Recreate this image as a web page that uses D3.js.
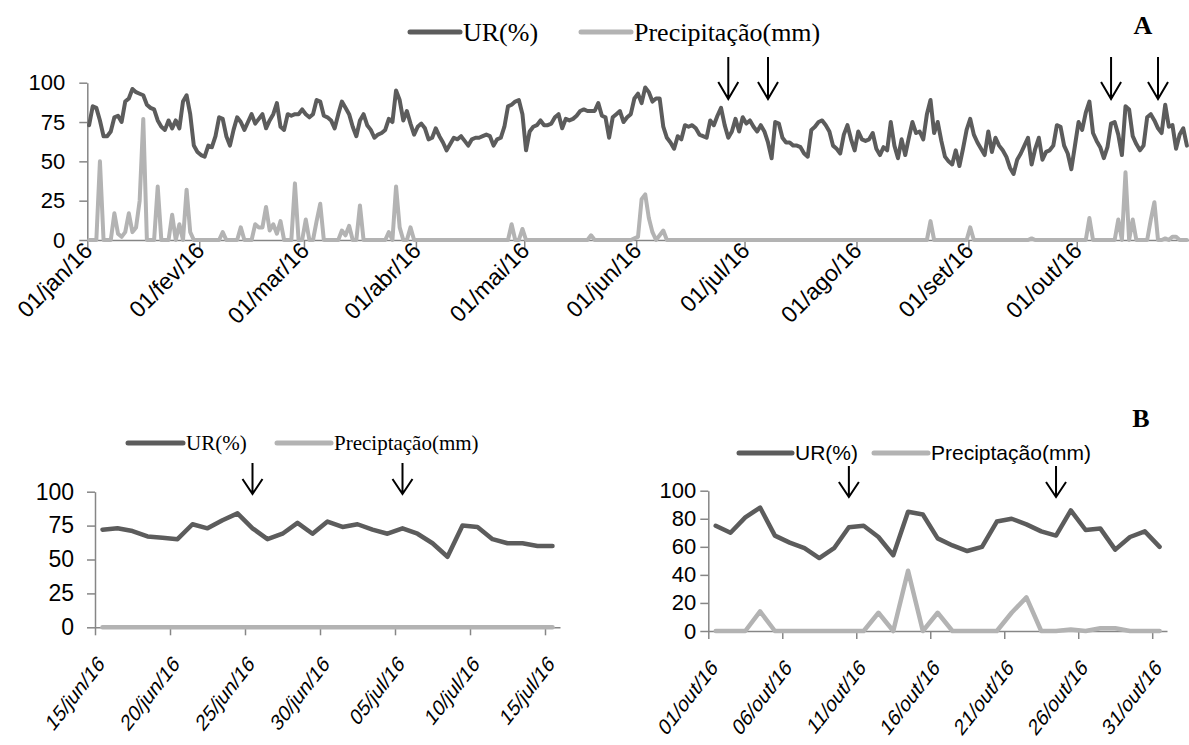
<!DOCTYPE html>
<html><head><meta charset="utf-8">
<script src="https://cdn.jsdelivr.net/npm/d3@7"></script>
<style>body{margin:0;background:#fff}</style>
</head><body>
<svg id="c" width="1189" height="745" xmlns="http://www.w3.org/2000/svg"></svg>
<script>
// ---------------- DATA ----------------
const monthAbbr = ["jan","fev","mar","abr","mai","jun","jul","ago","set","out","nov","dez"];
const seriesNamesA = ["UR(%)", "Precipitação(mm)"];
const seriesNamesB = ["UR(%)", "Preciptação(mm)"];

// Panel A: daily values 01/jan/16 .. 31/out/16
const urA = [
73,85,84,76,66,66,69,78,79,75,
88,90,96,94,93,92,86,84,83,76,
72,70,76,71,76,71,88,92,80,60,
56,54,53,60,59,66,78,77,66,60,
70,78,75,70,75,80,74,77,80,71,
76,80,87,72,70,80,79,80,80,83,
80,78,80,89,88,79,78,76,71,80,
88,84,80,72,66,76,80,73,70,65,
67,68,70,77,75,95,89,76,82,74,
67,72,74,71,64,65,71,66,62,57,
61,65,64,66,63,60,64,65,65,66,
67,66,60,64,65,72,85,86,88,89,
80,57,69,72,73,76,73,73,74,78,
80,71,77,76,77,79,82,83,82,82,
82,87,79,78,65,78,80,82,75,78,
80,90,93,87,97,94,88,90,90,72,
65,62,58,66,64,73,72,73,71,67,
66,65,76,73,79,84,73,65,69,77,
69,78,74,76,72,69,73,69,62,52,
75,74,65,62,62,60,60,59,55,53,
70,72,75,76,73,69,60,58,55,67,
73,64,57,69,64,63,64,68,58,54,
59,57,75,60,52,64,54,65,75,68,
69,64,80,89,68,75,63,53,50,48,
57,47,58,70,77,67,62,58,54,69,
56,65,60,57,53,46,42,51,55,60,
65,48,58,65,51,56,57,60,73,72,
60,55,45,60,75,70,81,88,68,63,
59,52,59,74,75,67,54,85,83,66,
61,57,60,78,80,76,71,68,86,72,
73,58,67,71,60
];
const precA = [
0,0,0,50,0,0,0,17,4,2,
5,17,5,8,25,77,0,0,0,34,
0,0,0,16,0,10,0,32,5,0,
0,0,0,0,0,0,0,5,0,0,
0,0,8,0,0,0,10,8,8,21,
6,10,4,12,0,0,0,36,0,0,
13,0,0,12,23,0,0,0,0,0,
6,3,9,0,0,22,0,0,0,0,
0,0,0,5,0,34,8,0,0,8,
0,0,0,0,0,0,0,0,0,0,
0,0,0,0,0,0,0,0,0,0,
0,0,0,0,0,0,0,10,0,0,
7,0,0,0,0,0,0,0,0,0,
0,0,0,0,0,0,0,0,0,3,
0,0,0,0,0,0,0,0,0,0,
0,1,2,26,29,14,5,0,3,6,
0,0,0,0,0,0,0,0,0,0,
0,0,0,0,0,0,0,0,0,0,
0,0,0,0,0,0,0,0,0,0,
0,0,0,0,0,0,0,0,0,0,
0,0,0,0,0,0,0,0,0,0,
0,0,0,0,0,0,0,0,0,0,
0,0,0,0,0,0,0,0,0,0,
0,0,0,12,0,0,0,0,0,0,
0,0,0,0,8,0,0,0,0,0,
0,0,0,0,0,0,0,0,0,0,
0,1,0,0,0,0,0,0,0,0,
0,0,0,0,0,0,0,14,0,0,
0,0,0,0,0,13,0,43,0,13,
0,0,0,0,13,24,0,0,1,0,
2,2,0,0,0
];
// Panel B left: 15/jun/16 .. 15/jul/16
const urB1 = [72,73,71,67,66,65,76,73,79,84,73,65,69,77,69,78,74,76,72,69,73,69,62,52,75,74,65,62,62,60,60];
const precB1 = [0,0,0,0,0,0,0,0,0,0,0,0,0,0,0,0,0,0,0,0,0,0,0,0,0,0,0,0,0,0,0];
// Panel B right: 01/out/16 .. 31/out/16
const urB2 = [75,70,81,88,68,63,59,52,59,74,75,67,54,85,83,66,61,57,60,78,80,76,71,68,86,72,73,58,67,71,60];
const precB2 = [0,0,0,14,0,0,0,0,0,0,0,13,0,43,0,13,0,0,0,0,13,24,0,0,1,0,2,2,0,0,0];

const yTicksA = [0,25,50,75,100];
const yTicksB1 = [0,25,50,75,100];
const yTicksB2 = [0,20,40,60,80,100];
const xTickDaysB = [0,5,10,15,20,25,30];
const arrowsA = ["2016-06-26","2016-07-07","2016-10-10","2016-10-23"];
const arrowsB1 = ["2016-06-25","2016-07-05"];
const arrowsB2 = ["2016-10-10","2016-10-24"];

// ---------------- DRAW ----------------
const svg = d3.select("#c");
const colUR = "#5c5c5c", colP = "#b3b3b3", colAxis = "#868686";
const sansFont = "'Liberation Sans', Arial, sans-serif";
const serifFont = "'Liberation Serif', 'Times New Roman', serif";
const parse = d3.timeParse("%Y-%m-%d");
const fmtLabel = d => d3.timeFormat("%d")(d) + "/" + monthAbbr[d.getMonth()] + "/" + d3.timeFormat("%y")(d);

function panel(cfg){
  const start = parse(cfg.start);
  const n = cfg.ur.length;
  const end = d3.timeDay.offset(start, n);
  const x = d3.scaleTime().domain([start, end]).range(cfg.xr);
  const y = d3.scaleLinear().domain([0,100]).range(cfg.yr);
  const g = svg.append("g");
  const mid = i => x(d3.timeHour.offset(d3.timeDay.offset(start, i), 12));

  // y axis
  const ya = g.append("g").attr("transform", `translate(${cfg.xr[0]},0)`)
    .call(d3.axisLeft(y).tickValues(cfg.yTicks).tickSize(8).tickSizeOuter(0).tickPadding(cfg.yPad));
  ya.select(".domain").attr("stroke", colAxis).attr("stroke-width", 1.5);
  ya.selectAll(".tick line").attr("stroke", colAxis).attr("stroke-width", 1.5);
  ya.selectAll(".tick text").attr("font-family", sansFont).attr("font-size", cfg.yFont).attr("fill", "#000");

  // x axis
  const xa = g.append("g").attr("transform", `translate(0,${cfg.yr[0]})`)
    .call(d3.axisBottom(x).tickValues(cfg.xTicks).tickSize(8).tickSizeOuter(0).tickFormat(fmtLabel));
  xa.select(".domain").attr("stroke", colAxis).attr("stroke-width", 1.5);
  xa.selectAll(".tick line").attr("stroke", colAxis).attr("stroke-width", 1.5);
  xa.selectAll(".tick text").attr("font-family", sansFont).attr("font-size", cfg.xFont).attr("fill", "#000")
    .attr("x", 0).attr("y", 0).attr("dy", 0).attr("text-anchor", "end")
    .attr("transform", `translate(${cfg.xOff[0]},${cfg.xOff[1]}) scale(${cfg.xSx},1) rotate(-45)`);

  const line = d3.line().x((d,i) => mid(i)).y(d => y(d)).curve(d3.curveLinear);
  g.append("path").datum(cfg.prec).attr("d", line).attr("fill","none").attr("stroke", colP)
    .attr("stroke-width", cfg.lw).attr("stroke-linejoin","round").attr("stroke-linecap","round");
  g.append("path").datum(cfg.ur).attr("d", line).attr("fill","none").attr("stroke", colUR)
    .attr("stroke-width", cfg.lw).attr("stroke-linejoin","round").attr("stroke-linecap","round");

  // arrows
  cfg.arrows.forEach(a => {
    const d = parse(a);
    const ax = x(d3.timeHour.offset(d, 12));
    const [y0, y1] = cfg.arrowY;
    const hw = cfg.arrowHead[0], hh = cfg.arrowHead[1];
    g.append("path").attr("d", `M${ax},${y0}L${ax},${y1}M${ax-hw},${y1-hh}L${ax},${y1}L${ax+hw},${y1-hh}`)
      .attr("fill","none").attr("stroke","#000").attr("stroke-width",2);
  });

  // legend
  const L = cfg.legend;
  cfg.names.forEach((nm, k) => {
    const lx = L.lines[k];
    g.append("line").attr("x1", lx[0]).attr("x2", lx[1]).attr("y1", L.y).attr("y2", L.y)
      .attr("stroke", k === 0 ? colUR : colP).attr("stroke-width", 5).attr("stroke-linecap","round");
    g.append("text").attr("x", lx[1] + 3).attr("y", L.y).attr("dy", "0.35em")
      .attr("font-family", L.font).attr("font-size", L.size).attr("fill", "#000").text(nm);
  });
}

const monthStarts = d3.range(0, 10).map(m => new Date(2016, m, 1));

panel({
  start: "2016-01-01", ur: urA, prec: precA,
  xr: [87.3, 1188.7], yr: [240, 82.7], yTicks: yTicksA, yPad: 14, yFont: 22,
  xTicks: monthStarts, xFont: 23, xOff: [6, 12], xSx: 1, lw: 4,
  arrows: arrowsA, arrowY: [57, 99], arrowHead: [10, 17],
  names: seriesNamesA,
  legend: {y: 32, lines: [[410, 460], [581, 631]], font: serifFont, size: 26}
});

const b1Start = parse("2016-06-15");
panel({
  start: "2016-06-15", ur: urB1, prec: precB1,
  xr: [95, 560], yr: [627.3, 491.7], yTicks: yTicksB1, yPad: 13, yFont: 23,
  xTicks: xTickDaysB.map(k => d3.timeDay.offset(b1Start, k)), xFont: 23, xOff: [10, 38], xSx: 0.78, lw: 4.5,
  arrows: arrowsB1, arrowY: [463, 494], arrowHead: [10, 15],
  names: seriesNamesB,
  legend: {y: 443, lines: [[128, 183], [277, 331]], font: serifFont, size: 21}
});

const b2Start = parse("2016-10-01");
panel({
  start: "2016-10-01", ur: urB2, prec: precB2,
  xr: [708.3, 1167], yr: [631, 490.7], yTicks: yTicksB2, yPad: 4, yFont: 22,
  xTicks: xTickDaysB.map(k => d3.timeDay.offset(b2Start, k)), xFont: 23, xOff: [10, 38], xSx: 0.78, lw: 4.5,
  arrows: arrowsB2, arrowY: [466, 497], arrowHead: [10, 15],
  names: seriesNamesB,
  legend: {y: 453, lines: [[739, 792], [874, 928]], font: sansFont, size: 21}
});

svg.append("text").attr("x", 1143).attr("y", 34).attr("text-anchor","middle")
  .attr("font-family", serifFont).attr("font-weight","bold").attr("font-size", 26).text("A");
svg.append("text").attr("x", 1141).attr("y", 427).attr("text-anchor","middle")
  .attr("font-family", serifFont).attr("font-weight","bold").attr("font-size", 26).text("B");
</script>
</body></html>
